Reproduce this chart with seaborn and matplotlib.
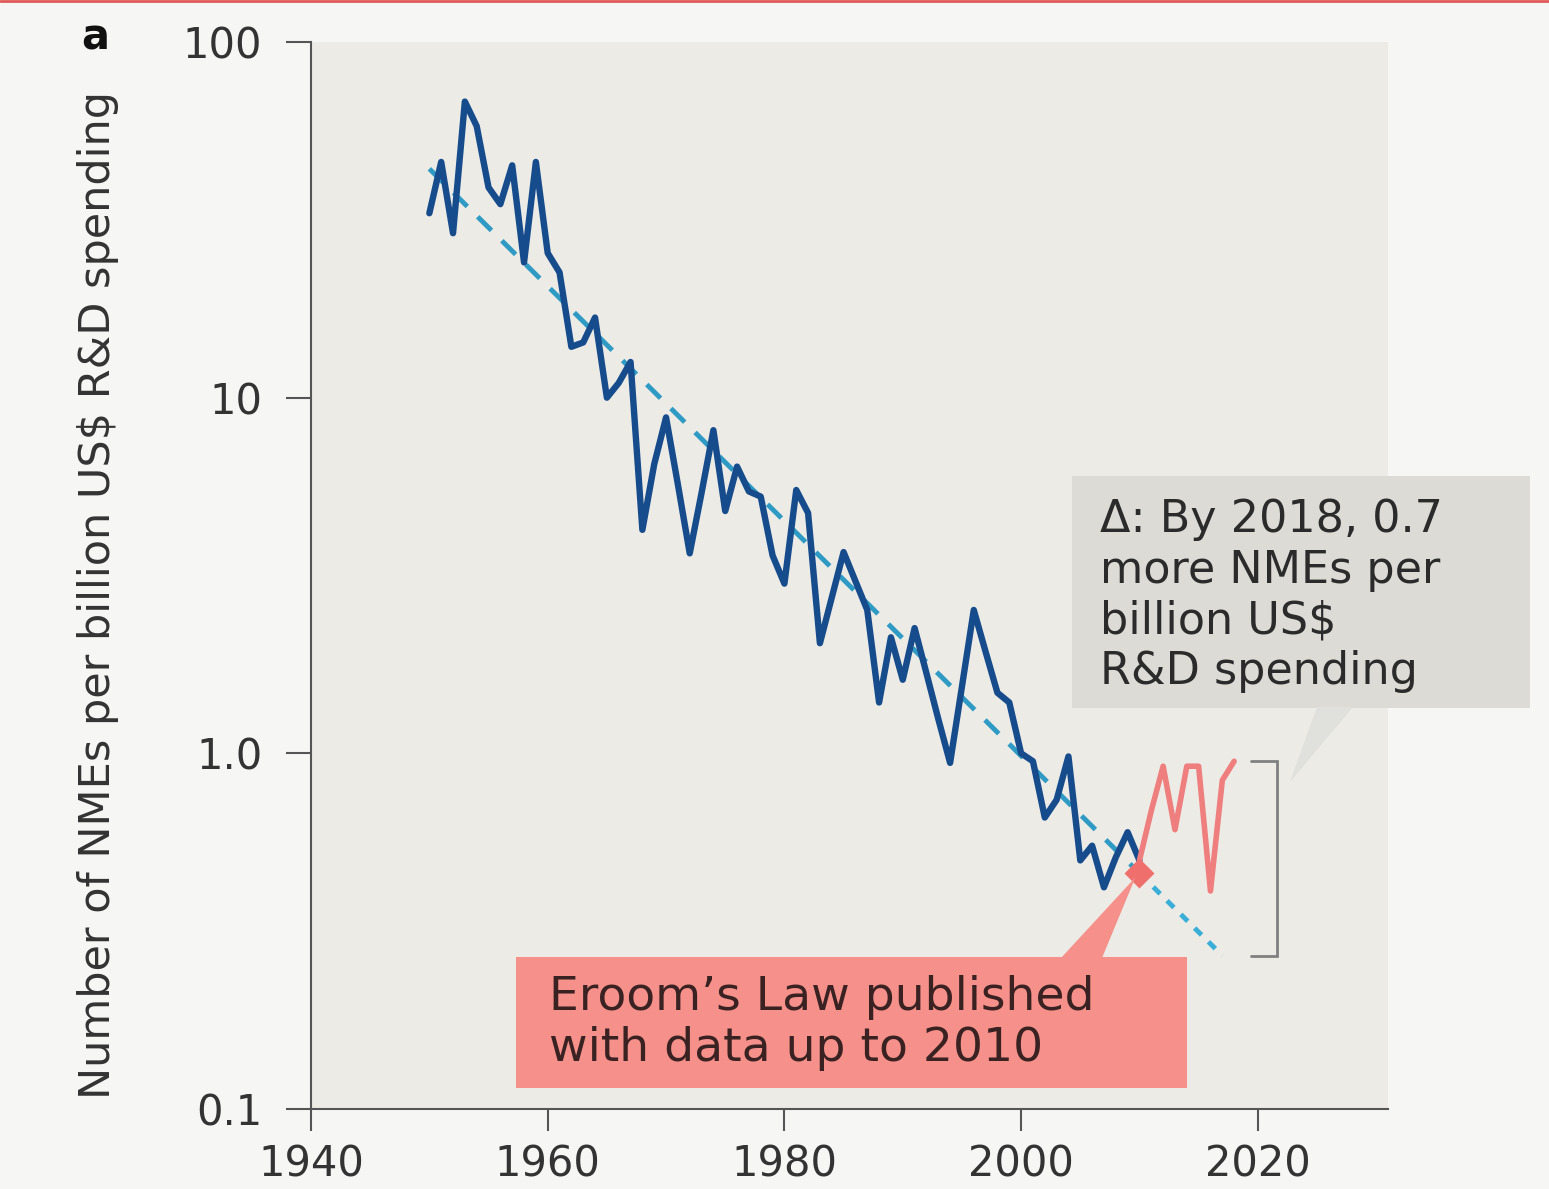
import numpy as np
import pandas as pd
import matplotlib
matplotlib.use("Agg")
import matplotlib.pyplot as plt
from matplotlib.patches import Rectangle, Polygon
from matplotlib.lines import Line2D
import seaborn as sns

# New molecular entities (NMEs) per billion US$ of R&D spending
years_hist = list(range(1950, 2011))
nme_hist = [33, 46, 29, 68, 58, 39, 35, 45, 24, 46,
            25.5, 22.5, 13.9, 14.3, 16.8, 10.0, 11.0, 12.6, 4.25, 6.5,
            8.8, 5.7, 3.65, 5.4, 8.1, 4.8, 6.4, 5.45, 5.27, 3.6,
            3.0, 5.5, 4.74, 2.04, 2.74, 3.68, 3.05, 2.53, 1.39, 2.12,
            1.61, 2.25, 1.68, 1.25, 0.94, 1.54, 2.53, 1.93, 1.48, 1.39,
            1.0, 0.95, 0.66, 0.74, 0.98, 0.50, 0.55, 0.42, 0.51, 0.60,
            0.50]
years_recent = list(range(2010, 2019))
nme_recent = [0.50, 0.69, 0.92, 0.61, 0.92, 0.92, 0.41, 0.84, 0.95]

# Eroom's Law trend (exponential decline)
trend_years = [1950, 2010, 2017]
trend_values = [44.0, 0.46, 0.27]
published_year = 2010
published_value = 0.46

x_ticks = [1940, 1960, 1980, 2000, 2020]
y_ticks = [0.1, 1.0, 10, 100]
y_tick_labels = ["0.1", "1.0", "10", "100"]

W, H = 1549, 1189

sns.set_theme(style="ticks")
plt.rcParams["font.family"] = ["DejaVu Sans"]

fig = plt.figure(figsize=(W / 100, H / 100), dpi=100, facecolor="#f6f6f4")
ax = fig.add_axes([311 / W, 1 - 1109 / H, (1388 - 311) / W, (1109 - 42) / H])
ax.set_facecolor("#ecebe6")
ax.set_yscale("log")
ax.set_xlim(1940, 2031)
ax.set_ylim(0.1, 100)


def trend_at(year):
    return 10 ** np.interp(year, trend_years, np.log10(trend_values))


# trend line: dashed up to publication, dotted projection afterwards
past = [y for y in range(trend_years[0], published_year + 1)]
future = [y for y in range(published_year, trend_years[-1] + 1)]
ax.plot(past, [trend_at(y) for y in past], color="#2f9bc4", lw=3.5,
        dashes=(4, 3), zorder=2)
ax.plot(future, [trend_at(y) for y in future], color="#3aaed6", lw=3.5,
        dashes=(2, 2), zorder=2)

hist_df = pd.DataFrame({"year": years_hist, "nme": nme_hist})
recent_df = pd.DataFrame({"year": years_recent, "nme": nme_recent})
sns.lineplot(data=hist_df, x="year", y="nme", ax=ax, color="#174c8c",
             lw=4.6, zorder=3)
sns.lineplot(data=recent_df, x="year", y="nme", ax=ax, color="#ef7e7e",
             lw=4.0, zorder=3)
ax.plot([published_year], [published_value], marker="D", ms=15,
        color="#ef6f6c", mec="none", zorder=4)

# bracket showing the gap in 2018
gap_year = years_recent[-1]
top, bottom = nme_recent[-1], trend_at(gap_year)
bx0, bx1 = gap_year + 1.4, gap_year + 3.6
ax.plot([bx0, bx1, bx1, bx0], [top, top, bottom, bottom], color="#808080",
        lw=2, zorder=2, solid_joinstyle="miter")

ax.set_xticks(x_ticks)
ax.set_xticklabels([str(t) for t in x_ticks])
ax.set_yticks(y_ticks)
ax.set_yticklabels(y_tick_labels)
ax.yaxis.set_minor_locator(matplotlib.ticker.NullLocator())
ax.tick_params(axis="y", length=18, width=1.5, color="#555555", pad=17,
               labelsize=30, labelcolor="#333333")
ax.tick_params(axis="x", length=16, width=1.5, color="#555555", pad=9,
               labelsize=30, labelcolor="#333333")
for side in ["top", "right"]:
    ax.spines[side].set_visible(False)
for side in ["left", "bottom"]:
    ax.spines[side].set_color("#555555")
    ax.spines[side].set_linewidth(1.5)
ax.set_xlabel("")
ax.set_ylabel("Number of NMEs per billion US$ R&D spending", fontsize=31,
              color="#333333")
ax.yaxis.set_label_coords(-0.178, 0.482)


def fpx(x, y):
    return (x / W, 1 - y / H)


# grey callout box
fig.add_artist(Rectangle(fpx(1072, 708), (1530 - 1072) / W, (708 - 476) / H,
                         transform=fig.transFigure, facecolor="#dcdbd6",
                         edgecolor="none", zorder=5))
fig.add_artist(Polygon([fpx(1317, 707), fpx(1353, 707), fpx(1290, 782)],
                       closed=True, transform=fig.transFigure,
                       facecolor="#e0e0dc", edgecolor="none", zorder=5))
fig.text(1100 / W, 1 - 498 / H,
         "Δ: By 2018, 0.7\nmore NMEs per\nbillion US$\nR&D spending",
         fontsize=32, color="#2b2b2b", ha="left", va="top",
         linespacing=1.23, zorder=6)

# pink callout box pointing at the publication point
tip = ax.transData.transform((published_year, published_value))
tip_fig = fig.transFigure.inverted().transform(tip)
fig.add_artist(Rectangle(fpx(516, 1088), (1187 - 516) / W, (1088 - 957) / H,
                         transform=fig.transFigure, facecolor="#f5908a",
                         edgecolor="none", zorder=5))
fig.add_artist(Polygon([fpx(1061, 958), fpx(1102, 958),
                        (tip_fig[0] - 4 / W, tip_fig[1] - 4 / H)],
                       closed=True, transform=fig.transFigure,
                       facecolor="#f5908a", edgecolor="none", zorder=5))
fig.text(549 / W, 1 - 975 / H, "Eroom’s Law published\nwith data up to 2010",
         fontsize=34, color="#3a2222", ha="left", va="top",
         linespacing=1.17, zorder=6)

# panel label and top rule
fig.text(95 / W, 1 - 38 / H, "a", fontsize=30, fontweight="bold",
         color="#111111", ha="center", va="center")
fig.add_artist(Line2D([0, 1], [1 - 1 / H, 1 - 1 / H], transform=fig.transFigure,
                      color="#e05a5a", lw=2))

fig.savefig("out.png", dpi=100, facecolor=fig.get_facecolor())
